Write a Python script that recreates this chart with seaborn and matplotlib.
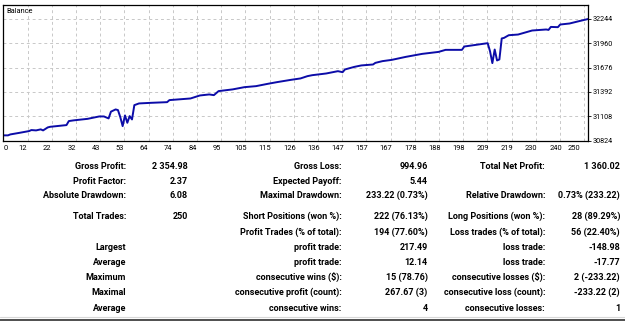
import matplotlib
matplotlib.use("Agg")
import matplotlib.pyplot as plt
from matplotlib.lines import Line2D
from matplotlib.ticker import FixedLocator
import seaborn as sns
import pandas as pd

# ---------------- data ----------------
trade = [0, 2, 3, 7, 11, 12, 14, 16, 17, 19, 20, 27, 28, 30, 36, 41, 43, 45, 46, 48,
         49, 50, 51, 52, 53, 54, 55, 56, 58, 63, 70, 71, 80, 84, 88, 90, 92, 98, 103, 108,
         113, 117, 123, 127, 130, 132, 138, 143, 145, 146, 150, 153, 158, 159, 162, 166,
         172, 179, 186, 189, 196, 197, 207, 208, 209, 210, 211, 212, 213, 214, 216, 220,
         226, 232, 233, 234, 237, 238, 242, 246, 250]
balance = [30884, 30884, 30895, 30914, 30934, 30946, 30942, 30954, 30942, 30977, 30984,
           31004, 31051, 31059, 31077, 31105, 31105, 31082, 31161, 31187, 31179, 31097,
           30992, 31117, 31031, 31109, 31070, 31237, 31257, 31264, 31272, 31296, 31315,
           31350, 31362, 31354, 31401, 31421, 31447, 31459, 31486, 31506, 31533, 31549,
           31576, 31587, 31607, 31634, 31622, 31654, 31684, 31701, 31712, 31731, 31751,
           31766, 31801, 31836, 31859, 31883, 31883, 31922, 31961, 31867, 31728, 31887,
           31759, 31771, 32016, 32023, 32054, 32062, 32109, 32121, 32116, 32151, 32148,
           32179, 32191, 32218, 32244]

y_ticks = [30824, 31108, 31392, 31676, 31960, 32244]
x_tick_labels = ['0', '12', '22', '32', '43', '53', '64', '74', '84', '95', '105', '115',
                 '126', '136', '147', '157', '167', '178', '188', '198', '209', '219',
                 '230', '240', '250']

row_labels_1 = ['Gross Profit:', 'Profit Factor:', 'Absolute Drawdown:', 'Total Trades:', '',
                'Largest', 'Average', 'Maximum', 'Maximal', 'Average']
row_values_1 = ['2 354.98', '2.37', '6.08', '250', '', '', '', '', '', '']
row_labels_2 = ['Gross Loss:', 'Expected Payoff:', 'Maximal Drawdown:', 'Short Positions (won %):',
                'Profit Trades (% of total):', 'profit trade:', 'profit trade:',
                'consecutive wins ($):', 'consecutive profit (count):', 'consecutive wins:']
row_values_2 = ['994.96', '5.44', '233.22 (0.73%)', '222 (76.13%)', '194 (77.60%)', '217.49',
                '12.14', '15 (78.76)', '267.67 (3)', '4']
row_labels_3 = ['Total Net Profit:', '', 'Relative Drawdown:', 'Long Positions (won %):',
                'Loss trades (% of total):', 'loss trade:', 'loss trade:',
                'consecutive losses ($):', 'consecutive loss (count):', 'consecutive losses:']
row_values_3 = ['1 360.02', '', '0.73% (233.22)', '28 (89.29%)', '56 (22.40%)', '-148.98',
                '-17.77', '2 (-233.22)', '-233.22 (2)', '1']

# ---------------- style ----------------
sns.set_style("white")
plt.rcParams['font.family'] = ['Roboto', 'DejaVu Sans']

W, H = 625, 322
fig = plt.figure(figsize=(W / 100, H / 100), dpi=100)
fig.patch.set_facecolor('white')

# plot area in pixels
L, R, T, B = 3.3, 588.3, 5.0, 140.5
ax = fig.add_axes([L / W, 1 - B / H, (R - L) / W, (B - T) / H])

df = pd.DataFrame({'trade': trade, 'balance': balance})
sns.lineplot(data=df, x='trade', y='balance', ax=ax, color='#0c0ca8', linewidth=1.4)

ax.set_xlim(0, 250)
ax.set_ylim(30824, 32407)
ax.set_xlabel('')
ax.set_ylabel('')

# y axis on the right
ax.yaxis.tick_right()
ax.set_yticks(y_ticks)
ax.set_yticklabels([str(v) for v in y_ticks])
ax.tick_params(axis='y', which='major', length=2, width=0.6, pad=1, labelsize=5.2,
               colors='black', direction='out', right=True, left=False)

# vertical grid (minor ticks) and x labels (major ticks)
grid_step = 24.2 / ((R - L) / 250)
grid_pos = [k * grid_step for k in range(1, 25)]
ax.xaxis.set_minor_locator(FixedLocator(grid_pos))
label_pos = [1.0] + [k * grid_step - 1.9 for k in range(1, 24)] + [243.9]
ax.set_xticks(label_pos)
ax.set_xticklabels(x_tick_labels)
ax.tick_params(axis='x', which='major', length=0, pad=3, labelsize=5.4, colors='black')
ax.tick_params(axis='x', which='minor', length=0)

ax.grid(False)
ax.grid(True, axis='x', which='minor', color='#c8c8c8', linestyle=(0, (3, 3)), linewidth=0.7)
ax.grid(True, axis='y', which='major', color='#c8c8c8', linestyle=(0, (3, 3)), linewidth=0.7)
ax.set_axisbelow(True)

for s in ax.spines.values():
    s.set_visible(True)
    s.set_color('black')
    s.set_linewidth(0.9)

ax.text(0.005, 0.975, 'Balance', transform=ax.transAxes, ha='left', va='top',
        fontsize=5.3, color='black')

# ---------------- stats table ----------------
row_y = [166.3, 181.0, 195.7, 216.7, 232.3, 247.6, 262.6, 277.4, 292.6, 308.4]
cols = [(126, row_labels_1), (187.7, row_values_1), (341.7, row_labels_2),
        (427.7, row_values_2), (545, row_labels_3), (620, row_values_3)]
for xr, texts in cols:
    for y, t in zip(row_y, texts):
        if t:
            fig.text(xr / W, 1 - y / H, t, ha='right', va='center', fontsize=6.5,
                     fontweight='bold', color='black')

# bottom separator lines
fig.add_artist(Line2D([0, 1], [1 - 316.5 / H, 1 - 316.5 / H], color='#d8d8d8', linewidth=0.8))
fig.add_artist(Line2D([0, 1], [1 - 319.8 / H, 1 - 319.8 / H], color='#404040', linewidth=1.3))

fig.savefig('out.png', dpi=100, facecolor='white')
